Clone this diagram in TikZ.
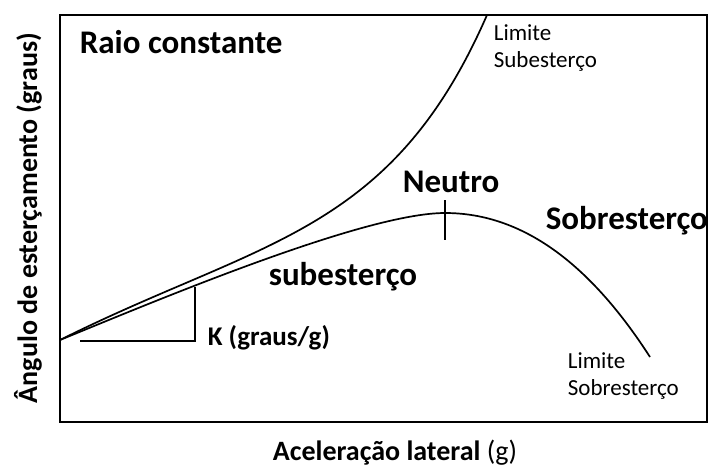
\documentclass[tikz,border=0pt]{standalone}
\usepackage{fontspec}
\setmainfont{Carlito}
\usepackage{tikz}

\begin{document}
\begin{tikzpicture}[x=1pt, y=-1pt, line width=1.7pt,
    big/.style={font=\fontsize{33}{36}\selectfont\bfseries, inner sep=0pt},
    mid/.style={font=\fontsize{27}{30}\selectfont\bfseries, inner sep=0pt},
    small/.style={font=\fontsize{23}{27}\selectfont, align=left, inner sep=0pt},
    axis/.style={font=\fontsize{28}{30}\selectfont\bfseries, inner sep=0pt}]
    \useasboundingbox (0,0) rectangle (709,469);
    \draw[line width=2pt] (60,15) rectangle (707,422);
    \coordinate (orig) at (60, 340);
    \coordinate (top) at (487, 15);
    \coordinate (neutral) at (445, 213);
    \coordinate (end) at (650, 357);
    % raio constante / limite subesterco
    \draw (orig) .. controls (260,240) and (391,235) .. (top);
    % subesterco -> sobresterco
    \draw (orig) .. controls (160,299) and (365,213) .. (neutral)
                 .. controls (525,213) and (592,267) .. (end);
    \draw[line width=2.6pt] (445,200) -- (445,240);
    \coordinate (kb) at (195, 341);
    \draw[line width=1.5pt] (80,341) -- (kb) -- (195,287);
    \node[big, anchor=base west] (raio) at (79, 53) {Raio constante};
    \node[small, anchor=base west] (limsub) at (493, 67) {Limite\\Subesterço};
    \node[big, anchor=base west] (neutro) at (402, 192) {Neutro};
    \node[big, anchor=base west] (sobre) at (545, 229) {Sobresterço};
    \node[big, anchor=base west] (sub) at (268, 285) {subesterço};
    \node[mid, anchor=base west] (k) at (207, 345) {K (graus/g)};
    \node[small, anchor=base west] (limsob) at (567, 395) {Limite\\Sobresterço};
    \node[axis, rotate=90, anchor=base] (ylab) at (37, 218) {Ângulo de esterçamento (graus)};
    \node[axis, anchor=base] (xlab) at (395, 460) {Aceleração lateral \mdseries(g)};
\end{tikzpicture}
\end{document}
